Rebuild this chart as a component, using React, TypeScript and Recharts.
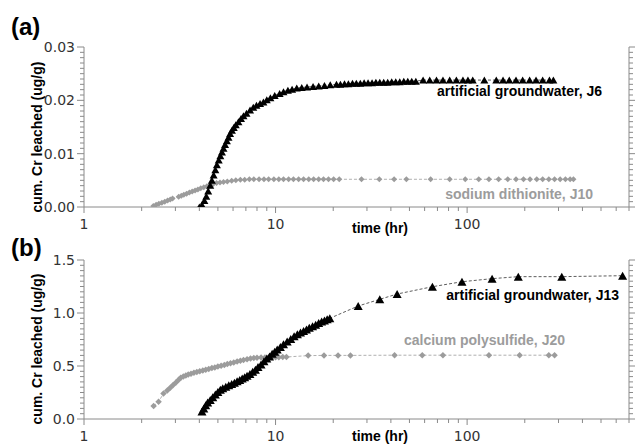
import React from 'react';
import { ScatterChart, Scatter, XAxis, YAxis } from 'recharts';

// (a) artificial groundwater, J6
const timeJ6 = [
  4.0, 4.13, 4.25, 4.35, 4.45, 4.56, 4.65, 4.75, 4.85, 4.94, 5.05, 5.15, 5.25, 5.35, 5.45, 5.57, 5.68, 5.79,
  5.92, 6.05, 6.2, 6.4, 6.6, 6.8, 7.05, 7.36, 7.65, 7.95, 8.3, 8.64, 9.0, 9.4, 9.9, 10.5, 11.0, 11.6, 12.2,
  12.9, 13.7, 14.6, 15.7, 16.8, 18.0, 19.3, 20.8, 21.8, 22.9, 24.0, 25.2, 26.4, 27.7, 29.0, 30.4, 31.9, 33.4,
  35.0, 36.7, 38.5, 40.4, 42.4, 44.5, 46.7, 49.0, 51.4, 54.0,
  58.9, 63.8, 69.2, 74.8, 81.1, 87.9, 95.1, 101, 107, 123, 142, 154, 166, 180, 195, 212, 229, 248, 269, 282,
];
const crJ6 = [
  0.0, 0.0004, 0.0012, 0.002, 0.003, 0.0041, 0.005, 0.006, 0.007, 0.0079, 0.0088, 0.0096, 0.0103, 0.011,
  0.0117, 0.0124, 0.0131, 0.0138, 0.0144, 0.0149, 0.0154, 0.016, 0.0166, 0.0171, 0.0176, 0.0182, 0.0187,
  0.0191, 0.0194, 0.0197, 0.0201, 0.0205, 0.0209, 0.0213, 0.0216, 0.0219, 0.0221, 0.0223, 0.0224, 0.0225,
  0.0226, 0.0227, 0.0228, 0.0229, 0.023, 0.023, 0.0231, 0.0231, 0.0232, 0.0232, 0.0232, 0.0233, 0.0233,
  0.0233, 0.0234, 0.0234, 0.0234, 0.0234, 0.0235, 0.0235, 0.0235, 0.0236, 0.0236, 0.0236, 0.0236,
  0.0238, 0.0238, 0.0238, 0.0238, 0.0238, 0.0238, 0.0238, 0.0238, 0.0238, 0.0238, 0.0238, 0.0238, 0.0238,
  0.0238, 0.0238, 0.0238, 0.0238, 0.0238, 0.0238, 0.0238,
];

// (a) sodium dithionite, J10
const timeJ10 = [
  2.3, 2.38, 2.46, 2.55, 2.64, 2.73, 2.82, 2.9, 3.12, 3.22, 3.32, 3.43, 3.55, 3.67, 3.8, 3.93, 4.07, 4.22,
  4.38, 4.55, 4.73, 4.92, 5.13, 5.35, 5.6, 5.9, 6.2, 6.55, 6.9, 7.3, 7.7, 8.2, 8.7, 9.2, 9.8, 10.4, 11.0,
  11.7, 12.4, 13.2, 14.0, 14.9, 15.8, 16.8, 17.8, 18.9, 20.1, 21.5,
  28.1, 34.8, 41.6, 48.2, 64.5, 81.1, 97.8, 115, 130, 146, 163, 180, 197, 213, 231, 248, 267, 286, 306,
  326, 345, 359,
];
const crJ10 = [
  0.0002, 0.0004, 0.0006, 0.0008, 0.001, 0.0012, 0.0014, 0.0016, 0.0019, 0.0021, 0.0023, 0.0025, 0.0027,
  0.0029, 0.0031, 0.0033, 0.0035, 0.0037, 0.0039, 0.0041, 0.0043, 0.0045, 0.0046, 0.0047, 0.0048, 0.0049,
  0.005, 0.0051, 0.0051, 0.0052, 0.0052, 0.0052, 0.0052, 0.0052, 0.0052, 0.0052, 0.0052, 0.0052, 0.0052,
  0.0052, 0.0052, 0.0052, 0.0052, 0.0052, 0.0052, 0.0052, 0.0052, 0.0052,
  0.0052, 0.0052, 0.0052, 0.0052, 0.0052, 0.0052, 0.0052, 0.0052, 0.0052, 0.0052, 0.0052, 0.0052, 0.0052,
  0.0052, 0.0052, 0.0052, 0.0052, 0.0052, 0.0052, 0.0052, 0.0052, 0.0052,
];

// (b) artificial groundwater, J13
const timeJ13 = [
  4.13, 4.22, 4.32, 4.42, 4.56, 4.7, 4.85, 5.0, 5.15, 5.3, 5.5, 5.7, 5.9, 6.1, 6.3, 6.5, 6.7, 6.9, 7.1, 7.35,
  7.6, 7.85, 8.1, 8.4, 8.7, 9.0, 9.3, 9.6, 9.9, 10.2, 10.6, 11.0, 11.5, 12.0, 12.5, 13.0, 13.5, 14.0, 14.5,
  15.0, 15.6, 16.2, 16.8, 17.4, 18.0, 18.6, 19.2,
  27.0, 35.0, 43.1, 65.9, 94, 135, 185, 312, 648,
];
const crJ13 = [
  0.07, 0.1, 0.13, 0.155, 0.18, 0.205, 0.23, 0.255, 0.275, 0.29, 0.305, 0.318, 0.33, 0.342, 0.355, 0.368,
  0.382, 0.395, 0.408, 0.425, 0.445, 0.465, 0.49, 0.515, 0.545, 0.57, 0.59, 0.615, 0.635, 0.655, 0.68, 0.705,
  0.73, 0.755, 0.78, 0.8, 0.815, 0.83, 0.845, 0.86, 0.875, 0.89, 0.905, 0.92, 0.93, 0.94, 0.95,
  1.066, 1.129, 1.179, 1.248, 1.295, 1.324, 1.343, 1.343, 1.352,
];

// (b) calcium polysulfide, J20
const timeJ20 = [
  2.31, 2.45, 2.6, 2.72, 2.82, 2.92, 3.02, 3.12, 3.2, 3.3, 3.4, 3.5, 3.62, 3.75, 3.88, 4.02, 4.17, 4.32,
  4.48, 4.65, 4.82, 5.0, 5.2, 5.4, 5.6, 5.82, 6.05, 6.3, 6.55, 6.8, 7.1, 7.4, 7.7, 8.0, 8.4, 8.8, 9.2, 9.6,
  10.0, 10.4, 10.9, 11.4,
  14.8, 17.9, 21.2, 24.6, 41.8, 58.3, 74.8, 130, 188, 267, 286,
];
const crJ20 = [
  0.123, 0.163, 0.24, 0.27, 0.295, 0.32, 0.345, 0.37, 0.39, 0.4, 0.41, 0.42, 0.428, 0.437, 0.444, 0.45,
  0.457, 0.464, 0.472, 0.48, 0.487, 0.495, 0.503, 0.51, 0.518, 0.526, 0.534, 0.542, 0.55, 0.557, 0.564,
  0.571, 0.576, 0.578, 0.58, 0.58, 0.582, 0.582, 0.583, 0.583, 0.584, 0.585,
  0.598, 0.6, 0.6, 0.6, 0.602, 0.602, 0.602, 0.602, 0.602, 0.602, 0.602,
];

const xTicks = [1, 2, 3, 4, 5, 6, 7, 8, 9, 10, 20, 30, 40, 50, 60, 70, 80, 90, 100, 200, 300, 400, 500, 600, 700];
const xLabels = [1, 10, 100];
const yLabelsA = [0, 0.01, 0.02, 0.03];
const yLabelsB = [0, 0.5, 1.0, 1.5];
const yTicksA = Array.from({ length: 31 }, (_, i) => +(i * 0.001).toFixed(3));
const yTicksB = Array.from({ length: 31 }, (_, i) => +(i * 0.05).toFixed(2));

const GRAY = '#9c9c9c';
const AXIS = '#8a8a8a';
const TICK_FONT = '"DejaVu Sans", sans-serif';
const BOLD_FONT = '"Liberation Sans", Arial, sans-serif';

const toPoints = (t: number[], v: number[]) => t.map((x, i) => ({ t: x, v: v[i] }));

const triangle = (w: number, h: number, fill: string) => (p: any) => {
  const { cx, cy } = p;
  if (cx == null || cy == null) return <g />;
  return <polygon points={`${cx - w / 2},${cy + h / 2} ${cx + w / 2},${cy + h / 2} ${cx},${cy - h / 2}`} fill={fill} />;
};

const diamond = (s: number, fill: string) => (p: any) => {
  const { cx, cy } = p;
  if (cx == null || cy == null) return <g />;
  return <polygon points={`${cx - s / 2},${cy} ${cx},${cy - s / 2} ${cx + s / 2},${cy} ${cx},${cy + s / 2}`} fill={fill} />;
};

const isIn = (list: number[], v: number) => list.some((m) => Math.abs(m - v) < 1e-9);

const XTick = (p: any) => {
  const major = isIn(xLabels, p.payload.value);
  return (
    <g>
      <line x1={p.x} x2={p.x} y1={p.y} y2={p.y + (major ? 6 : 4)} stroke={AXIS} strokeWidth={1} />
      {major && (
        <text x={p.x} y={p.y + 22} textAnchor="middle" fontFamily={TICK_FONT} fontSize={14} fill="#333">
          {p.payload.value}
        </text>
      )}
    </g>
  );
};

const makeYTick = (labels: number[], digits: number) => (p: any) => {
  const major = isIn(labels, p.payload.value);
  return (
    <g>
      <line x1={p.x} x2={p.x - (major ? 7 : 4)} y1={p.y} y2={p.y} stroke={AXIS} strokeWidth={1} />
      {major && (
        <text x={p.x - 9} y={p.y + 5} textAnchor="end" fontFamily={TICK_FONT} fontSize={14} fill="#333">
          {p.payload.value.toFixed(digits)}
        </text>
      )}
    </g>
  );
};

const makeRTick = (labels: number[]) => (p: any) => {
  const major = isIn(labels, p.payload.value);
  return <line x1={p.x} x2={p.x + (major ? 6 : 4)} y1={p.y} y2={p.y} stroke={AXIS} strokeWidth={1} />;
};

interface PanelProps {
  top: number;
  height: number;
  marginTop: number;
  xHeight: number;
  yMax: number;
  yTicks: number[];
  yLabels: number[];
  digits: number;
  black: { t: number; v: number }[];
  gray: { t: number; v: number }[];
  triW: number;
  triH: number;
  dia: number;
}

const Panel = (props: PanelProps) => {
  const { top, height, marginTop, xHeight, yMax, yTicks, yLabels, digits, black, gray, triW, triH, dia } = props;
  return (
    <div style={{ position: 'absolute', left: 0, top, width: 635, height }}>
      <ScatterChart width={635} height={height} margin={{ top: marginTop, right: 0, bottom: 0, left: 0 }}>
        <XAxis
          dataKey="t"
          type="number"
          scale="log"
          domain={[1, 700]}
          allowDataOverflow
          ticks={xTicks}
          interval={0}
          tickSize={0}
          tickMargin={0}
          tickLine={false}
          tick={XTick}
          height={xHeight}
          axisLine={{ stroke: AXIS }}
        />
        <XAxis
          xAxisId="top"
          orientation="top"
          type="number"
          scale="log"
          domain={[1, 700]}
          allowDataOverflow
          tick={false}
          tickLine={false}
          height={0}
          axisLine={{ stroke: AXIS }}
        />
        <YAxis
          dataKey="v"
          type="number"
          domain={[0, yMax]}
          allowDataOverflow
          ticks={yTicks}
          interval={0}
          tickSize={0}
          tickMargin={0}
          tickLine={false}
          tick={makeYTick(yLabels, digits)}
          width={84}
          axisLine={{ stroke: AXIS }}
        />
        <YAxis
          yAxisId="r"
          orientation="right"
          type="number"
          domain={[0, yMax]}
          allowDataOverflow
          ticks={yTicks}
          interval={0}
          tickSize={0}
          tickMargin={0}
          tickLine={false}
          tick={makeRTick(yLabels)}
          width={6}
          axisLine={{ stroke: AXIS }}
        />
        <Scatter
          data={gray}
          fill={GRAY}
          line={{ stroke: GRAY, strokeWidth: 0.8, strokeDasharray: '3 2' }}
          lineType="joint"
          shape={diamond(dia, GRAY)}
          isAnimationActive={false}
        />
        <Scatter
          data={black}
          fill="#000"
          line={{ stroke: '#333', strokeWidth: 0.8, strokeDasharray: '3 2' }}
          lineType="joint"
          shape={triangle(triW, triH, '#000')}
          isAnimationActive={false}
        />
      </ScatterChart>
    </div>
  );
};

export default function App() {
  return (
    <div style={{ position: 'absolute', left: 0, top: 0, width: 635, height: 446, background: '#fff', overflow: 'hidden' }}>
      <Panel
        top={0}
        height={242}
        marginTop={47}
        xHeight={35}
        yMax={0.03}
        yTicks={yTicksA}
        yLabels={yLabelsA}
        digits={2}
        black={toPoints(timeJ6, crJ6)}
        gray={toPoints(timeJ10, crJ10)}
        triW={8}
        triH={7}
        dia={6}
      />
      <Panel
        top={230}
        height={226}
        marginTop={30}
        xHeight={37}
        yMax={1.5}
        yTicks={yTicksB}
        yLabels={yLabelsB}
        digits={1}
        black={toPoints(timeJ13, crJ13)}
        gray={toPoints(timeJ20, crJ20)}
        triW={9}
        triH={8}
        dia={6.5}
      />
      <svg width={635} height={446} style={{ position: 'absolute', left: 0, top: 0, pointerEvents: 'none' }}>
        <g fontFamily={BOLD_FONT} fontWeight="bold">
          <text x={11} y={35} fontSize={24}>(a)</text>
          <text x={11} y={256} fontSize={24}>(b)</text>
          <text x={42} y={137} fontSize={14} textAnchor="middle" transform="rotate(-90, 42, 137)">cum. Cr leached (ug/g)</text>
          <text x={42} y={349} fontSize={14} textAnchor="middle" transform="rotate(-90, 42, 349)">cum. Cr leached (ug/g)</text>
          <text x={380} y={233} fontSize={14} textAnchor="middle">time (hr)</text>
          <text x={380} y={441} fontSize={14} textAnchor="middle">time (hr)</text>
          <text x={602} y={96} fontSize={14} textAnchor="end" fill="#000">artificial groundwater, J6</text>
          <text x={593} y={199} fontSize={14} textAnchor="end" fill={GRAY}>sodium dithionite, J10</text>
          <text x={619} y={300} fontSize={14} textAnchor="end" fill="#000">artificial groundwater, J13</text>
          <text x={565} y={345} fontSize={14} textAnchor="end" fill={GRAY}>calcium polysulfide, J20</text>
        </g>
      </svg>
    </div>
  );
}
